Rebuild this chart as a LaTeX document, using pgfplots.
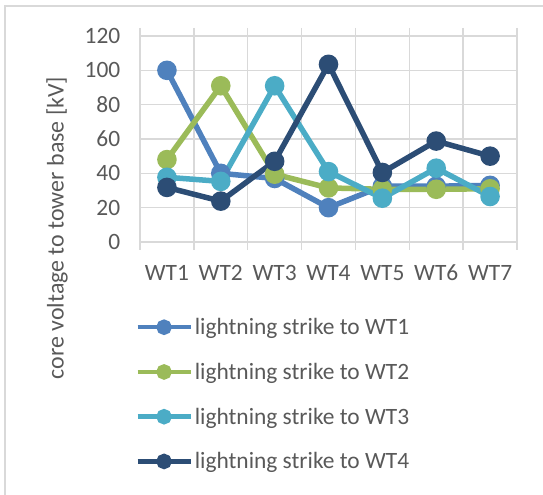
\documentclass[border=0pt]{standalone}
\usepackage{pgfplots}
\pgfplotsset{compat=1.18}
\usepackage{fontspec}
\setmainfont{Carlito}
\definecolor{sA}{HTML}{4F81BD}
\definecolor{sB}{HTML}{9BBB59}
\definecolor{sC}{HTML}{4BACC6}
\definecolor{sD}{HTML}{2C4D75}
\definecolor{gridc}{HTML}{D9D9D9}
\definecolor{txt}{HTML}{595959}
\begin{document}
\begin{tikzpicture}[x=1bp,y=1bp]
\path[use as bounding box] (0,0) rectangle (543,495);
\draw[gridc, line width=1.5bp] (5,0) -- (5,489) -- (543,489);
\node[rotate=90, text=txt, font=\fontsize{24}{28}\selectfont] at (57,267) {core voltage to tower base [kV]};
\begin{axis}[
  scale only axis,
  at={(140bp,253bp)}, anchor=south west,
  width=377bp, height=206bp,
  xmin=0.5, xmax=7.5, ymin=0, ymax=120,
  xtick={1,...,7},
  xticklabels={WT1,WT2,WT3,WT4,WT5,WT6,WT7},
  minor xtick={0.5,1.5,...,7.5},
  ytick={0,20,...,120},
  major x tick style={draw=none},
  minor x tick style={gridc, line width=1.5bp},
  minor tick length=8bp,
  tick align=outside,
  major y tick style={draw=none},
  ymajorgrids, xminorgrids,
  grid style={gridc, line width=1.5bp},
  minor grid style={gridc, line width=1.5bp},
  axis line style={draw=none},
  tick label style={text=txt, font=\fontsize{23.5}{27}\selectfont},
  /pgf/number format/assume math mode=true,
  xticklabel style={yshift=-15bp, text height=16bp, text depth=0bp},
  yticklabel style={xshift=-12bp},
  every axis plot/.append style={line width=5.5bp, mark=*, mark size=7bp},
  legend style={draw=none, fill=none, at={(-0.013,-0.36)}, anchor=north west,
    font=\fontsize{23.5}{27}\selectfont, text=txt, row sep=23bp, inner sep=0pt,
    cells={anchor=west}},
  legend cell align=left,
  legend image code/.code={
    \draw[#1, line width=4.5bp, mark size=5.5bp, mark repeat=2, mark phase=2]
      plot coordinates {(0bp,0bp) (26.5bp,0bp) (53bp,0bp)};
  },
]
\addplot[color=sA] coordinates {(1,100) (2,40) (3,37) (4,20) (5,32.5) (6,32.5) (7,33)};
\addlegendentry{lightning strike to WT1}
\addplot[color=sB] coordinates {(1,48) (2,91) (3,39.5) (4,31.5) (5,30.7) (6,30.7) (7,31)};
\addlegendentry{lightning strike to WT2}
\addplot[color=sC] coordinates {(1,37.7) (2,35.3) (3,91) (4,41) (5,25.5) (6,43) (7,26.5)};
\addlegendentry{lightning strike to WT3}
\addplot[color=sD] coordinates {(1,31.8) (2,23.8) (3,47) (4,103.5) (5,40.5) (6,58.8) (7,50)};
\addlegendentry{lightning strike to WT4}
\end{axis}
\end{tikzpicture}
\end{document}
